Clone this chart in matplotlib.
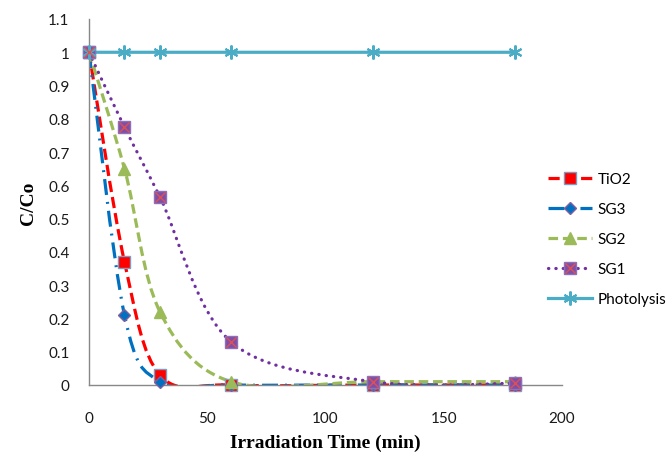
import matplotlib
matplotlib.use('Agg')
import matplotlib.pyplot as plt
from matplotlib.path import Path
from matplotlib.patches import PathPatch
from matplotlib.lines import Line2D
from matplotlib.legend_handler import HandlerTuple
from matplotlib.ticker import FuncFormatter

# irradiation times (min)
time = [0, 15, 30, 60, 120, 180]

tio2 = [1.0, 0.37, 0.03, 0.0, 0.0, 0.0]
sg3 = [1.0, 0.21, 0.01, 0.0, 0.0, 0.0]
sg2 = [1.0, 0.65, 0.22, 0.01, 0.01, 0.01]
sg1 = [1.0, 0.775, 0.565, 0.13, 0.01, 0.005]
photolysis = [1.0, 1.0, 1.0, 1.0, 1.0, 1.0]
photo_time = [0, 15, 30, 60, 120, 180]

x_ticks = [0, 50, 100, 150, 200]
y_ticks = [0, 0.1, 0.2, 0.3, 0.4, 0.5, 0.6, 0.7, 0.8, 0.9, 1.0, 1.1]

plt.rcParams['font.family'] = ['Lato', 'DejaVu Sans']


def smooth_path(xs, ys):
    # excel-style smoothed line: cubic bezier through the points
    pts = list(zip(xs, ys))
    n = len(pts)
    verts = [pts[0]]
    codes = [Path.MOVETO]
    for i in range(n - 1):
        p0 = pts[i - 1] if i > 0 else pts[i]
        p1 = pts[i]
        p2 = pts[i + 1]
        p3 = pts[i + 2] if i + 2 < n else pts[i + 1]
        c1 = (p1[0] + (p2[0] - p0[0]) / 6, p1[1] + (p2[1] - p0[1]) / 6)
        c2 = (p2[0] - (p3[0] - p1[0]) / 6, p2[1] - (p3[1] - p1[1]) / 6)
        verts += [c1, c2, p2]
        codes += [Path.CURVE4] * 3
    return Path(verts, codes)


fig = plt.figure(figsize=(6.69, 4.56), dpi=100)
ax = fig.add_axes([89 / 669, 1 - 386 / 456, (562 - 89) / 669, (386 - 20) / 456])

series = [
    ('TiO2', tio2, time, '#FF0000', (0, (3.5, 1.6)), 's', '#FF0000', '#7F9BC0', 8),
    ('SG3', sg3, time, '#0070C0', (0, (5, 2.2, 0.6, 2.2)), 'D', '#0070C0', '#7F5FA0', 6.5),
    ('SG2', sg2, time, '#9BBB59', (0, (3, 1.5)), '^', '#9BBB59', '#9BBB59', 8),
    ('SG1', sg1, time, '#7030A0', (0, (0.1, 2.2)), 's', '#7F4FA8', '#8F6FB8', 9),
    ('Photolysis', photolysis, photo_time, '#4BACC6', '-', (6, 2, 0), '#4BACC6', '#4BACC6', 10),
]

handles = []
labels = []
for name, ys, xs, col, ls, mk, mfc, mec, ms in series:
    patch = PathPatch(smooth_path(xs, ys), fill=False, edgecolor=col, lw=2.3,
                      linestyle=ls, capstyle='round' if name == 'SG1' else 'butt',
                      zorder=2)
    ax.add_patch(patch)
    ax.plot(xs, ys, linestyle='none', marker=mk, ms=ms, mfc=mfc, mec=mec,
            mew=1.0 if name != 'Photolysis' else 1.5, zorder=3, clip_on=False)
    h = Line2D([], [], color=col, lw=2.3, linestyle=ls, marker=mk, ms=ms,
               mfc=mfc, mec=mec, mew=1.0 if name != 'Photolysis' else 1.5,
               dash_capstyle='round' if name == 'SG1' else 'butt')
    if name == 'SG1':
        ax.plot(xs, ys, linestyle='none', marker='x', ms=7, mec='#E05050',
                mew=1.0, zorder=4, clip_on=False)
        h = (h, Line2D([], [], linestyle='none', marker='x', ms=7,
                       mec='#E05050', mew=1.0))
    handles.append(h)
    labels.append(name)

ax.set_xlim(0, 200)
ax.set_ylim(0, 1.1)
ax.set_xticks(x_ticks)
ax.set_yticks(y_ticks)
ax.yaxis.set_major_formatter(FuncFormatter(lambda v, p: '{:g}'.format(round(v, 2))))
ax.tick_params(length=0, labelsize=11, colors='#1a1a1a')
ax.tick_params(axis='x', pad=19)
ax.tick_params(axis='y', pad=14)

for s in ['top', 'right']:
    ax.spines[s].set_visible(False)
for s in ['left', 'bottom']:
    ax.spines[s].set_color('#888888')
    ax.spines[s].set_linewidth(1.0)

ax.set_xlabel('Irradiation Time (min)', family=['Liberation Serif'],
              fontweight='bold', fontsize=14, labelpad=6)
ax.set_ylabel('C/Co', family=['Liberation Serif'], fontweight='bold',
              fontsize=14, labelpad=8)

fig.legend(handles, labels, loc='center left',
           bbox_to_anchor=(548 / 669, 1 - 240 / 456), frameon=False,
           fontsize=11, handlelength=2.9, handletextpad=0.35,
           labelspacing=1.05, borderpad=0, borderaxespad=0,
           handler_map={tuple: HandlerTuple(ndivide=1)})

fig.savefig('out.png', dpi=100)
